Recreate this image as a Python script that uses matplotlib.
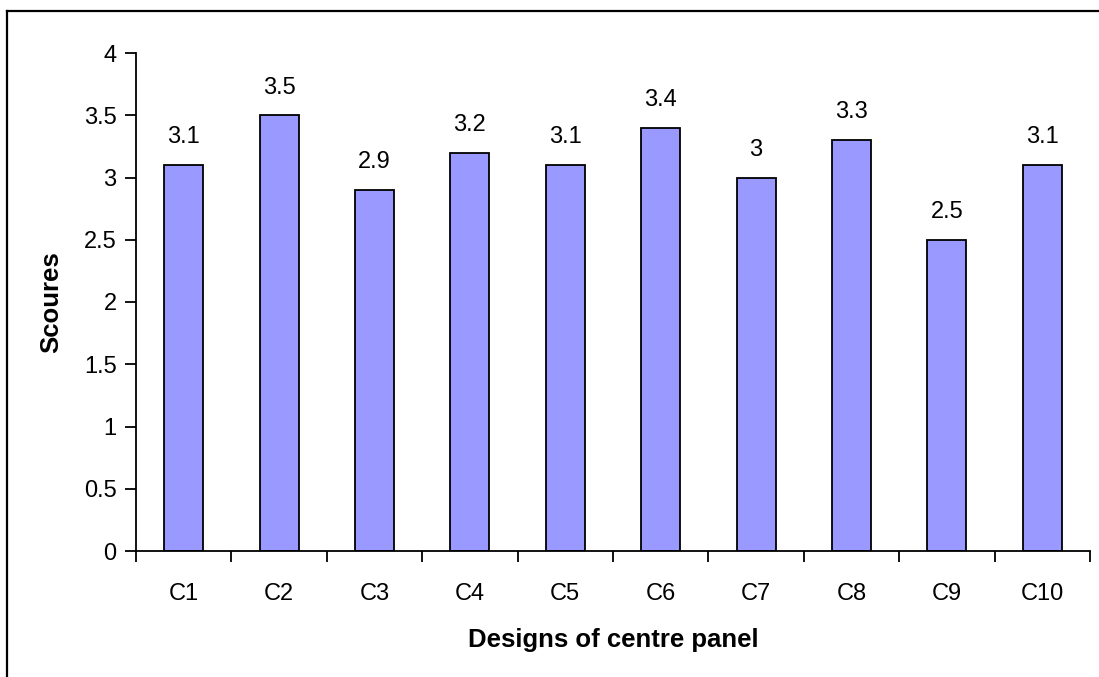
import matplotlib
matplotlib.use('Agg')
import matplotlib.pyplot as plt
from matplotlib.lines import Line2D

designs = ['C1', 'C2', 'C3', 'C4', 'C5', 'C6', 'C7', 'C8', 'C9', 'C10']
scores = [3.1, 3.5, 2.9, 3.2, 3.1, 3.4, 3.0, 3.3, 2.5, 3.1]
score_labels = ['3.1', '3.5', '2.9', '3.2', '3.1', '3.4', '3', '3.3', '2.5', '3.1']

plt.rcParams['font.family'] = ['Liberation Sans', 'DejaVu Sans']

W, H = 1099, 677
fig = plt.figure(figsize=(W / 100, H / 100), dpi=100)
ax = fig.add_axes([136 / W, (H - 551) / H, (1090 - 136) / W, (551 - 53) / H])

x = list(range(len(designs)))
ax.bar(x, scores, width=0.41, color='#9999FF', edgecolor='black', linewidth=1.3)

for xi, v, lab in zip(x, scores, score_labels):
    ax.annotate(lab, (xi, v), xytext=(0, 12), textcoords='offset points',
                ha='center', va='bottom', fontsize=17)

ax.set_xlim(-0.5, len(designs) - 0.5)
ax.set_ylim(0, 4)
ax.set_yticks([0, 0.5, 1, 1.5, 2, 2.5, 3, 3.5, 4])
ax.set_yticklabels(['0', '0.5', '1', '1.5', '2', '2.5', '3', '3.5', '4'], fontsize=17)
# ticks between categories, labels at centres
ax.set_xticks([i - 0.5 for i in range(len(designs) + 1)])
ax.set_xticklabels([])
ax.set_xticks(x, minor=True)
ax.set_xticklabels(designs, minor=True, fontsize=17)
ax.tick_params(axis='x', which='minor', length=0, pad=23)
ax.tick_params(axis='both', which='major', direction='out', length=8, width=1.3)
ax.tick_params(axis='y', pad=6)

for s in ['top', 'right']:
    ax.spines[s].set_visible(False)
for s in ['left', 'bottom']:
    ax.spines[s].set_linewidth(1.3)

ax.set_ylabel('Scoures', fontsize=18.5, fontweight='bold', va='center')
ax.yaxis.set_label_coords(-0.089, 0.5)
ax.set_xlabel('Designs of centre panel', fontsize=18.5, fontweight='bold', va='center')
ax.xaxis.set_label_coords(0.5, -0.178)

# outer chart frame (only top and left edges visible)
fig.add_artist(Line2D([7 / W, 7 / W], [0, (H - 10.5) / H], color='black', linewidth=1.6))
fig.add_artist(Line2D([7 / W, 1], [(H - 10.5) / H, (H - 10.5) / H], color='black', linewidth=1.6))

fig.savefig('out.png', dpi=100)
